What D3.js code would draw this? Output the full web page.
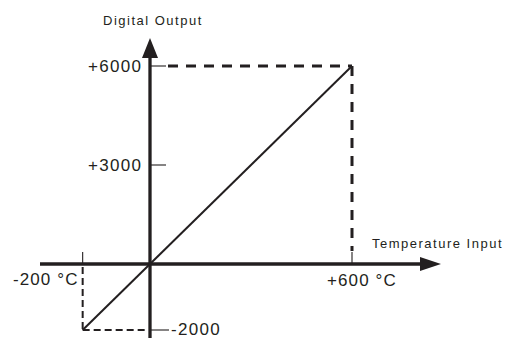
<!DOCTYPE html>
<html><head><meta charset="utf-8">
<script src="https://cdn.jsdelivr.net/npm/d3@7/dist/d3.min.js"></script>
<style>
html,body{margin:0;padding:0;background:#fff;}
svg{display:block;}
text{font-family:"Liberation Sans",Arial,sans-serif;fill:#231f20;}
</style></head>
<body>
<svg id="c" width="506" height="338"></svg>
<script>
// data
const tempRange = [-200, 600];          // temperature input range (°C)
const outputRange = [-2000, 6000];      // digital output range
const yTickValues = [6000, 3000, -2000];
const yTickLabels = ["+6000", "+3000", "-2000"];
const xTickValues = [-200, 600];
const xTickLabels = ["-200 °C", "+600 °C"];
const xAxisTitle = "Temperature Input";
const yAxisTitle = "Digital Output";

const ink = "#231f20";
const svg = d3.select("#c");

const x = d3.scaleLinear().domain([0, 600]).range([150, 352]);
const y = d3.scaleLinear().domain([0, 6000]).range([264, 66]);

const x0 = x(0), y0 = y(0);

// axes lines
svg.append("line").attr("x1", 40).attr("x2", 424).attr("y1", y0).attr("y2", y0)
  .attr("stroke", ink).attr("stroke-width", 3.3);
svg.append("line").attr("x1", x0).attr("x2", x0).attr("y1", 54).attr("y2", 338)
  .attr("stroke", ink).attr("stroke-width", 3.3);
// arrows
svg.append("path").attr("d", `M${x0},38 L${x0+8},58 L${x0-8},58 Z`).attr("fill", ink);
svg.append("path").attr("d", `M441,${y0} L420,${y0-7} L420,${y0+7} Z`).attr("fill", ink);

// y ticks
const yTickLen = [16, 16, 19];
yTickValues.forEach((v, i) => {
  svg.append("line").attr("x1", x0).attr("x2", x0 + yTickLen[i])
    .attr("y1", y(v)).attr("y2", y(v)).attr("stroke", ink).attr("stroke-width", 1.1);
});
// x ticks
xTickValues.forEach(v => {
  svg.append("line").attr("x1", x(v)).attr("x2", x(v))
    .attr("y1", y0 - 12).attr("y2", y0).attr("stroke", ink).attr("stroke-width", 1.1);
});

// dashed guide lines (top-right thick)
svg.append("path")
  .attr("d", `M${x0+18},${y(outputRange[1])} L${x(tempRange[1])},${y(outputRange[1])}`)
  .attr("stroke", ink).attr("stroke-width", 3).attr("fill", "none").attr("stroke-dasharray", "10,8");
svg.append("path")
  .attr("d", `M${x(tempRange[1])},${y(outputRange[1])} L${x(tempRange[1])},${y0-13}`)
  .attr("stroke", ink).attr("stroke-width", 3).attr("fill", "none").attr("stroke-dasharray", "10,8");
// bottom-left thinner
svg.append("path")
  .attr("d", `M${x(tempRange[0])},${y0+3} L${x(tempRange[0])},${y(outputRange[0])}`)
  .attr("stroke", ink).attr("stroke-width", 2).attr("fill", "none").attr("stroke-dasharray", "7,4");
svg.append("path")
  .attr("d", `M${x(tempRange[0])},${y(outputRange[0])} L${x0-2},${y(outputRange[0])}`)
  .attr("stroke", ink).attr("stroke-width", 2).attr("fill", "none").attr("stroke-dasharray", "7,4");

// transfer line
svg.append("line")
  .attr("x1", x(tempRange[0])).attr("y1", y(outputRange[0]))
  .attr("x2", x(tempRange[1])).attr("y2", y(outputRange[1]))
  .attr("stroke", ink).attr("stroke-width", 2);

// labels
const big = 17, small = 13;
const yLabelPos = [[88, 72], [88, 171], [171, 334.5]];
yTickLabels.forEach((t, i) => {
  svg.append("text").attr("x", yLabelPos[i][0]).attr("y", yLabelPos[i][1])
    .attr("font-size", big).attr("letter-spacing", 1.3).text(t);
});
const xLabelPos = [[13, 285], [327, 286]];
xTickLabels.forEach((t, i) => {
  svg.append("text").attr("x", xLabelPos[i][0]).attr("y", xLabelPos[i][1])
    .attr("font-size", big).attr("letter-spacing", 1.1).text(t);
});
svg.append("text").attr("x", 103).attr("y", 25).attr("font-size", small)
  .attr("letter-spacing", 1.5).text(yAxisTitle);
svg.append("text").attr("x", 372).attr("y", 248).attr("font-size", small)
  .attr("letter-spacing", 1.5).text(xAxisTitle);
</script>
</body></html>
